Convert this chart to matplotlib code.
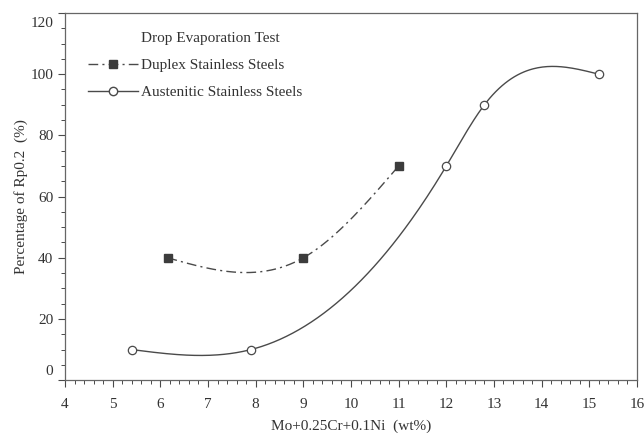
import numpy as np
import matplotlib
matplotlib.use('Agg')
import matplotlib.pyplot as plt
from matplotlib.lines import Line2D
from matplotlib.ticker import MultipleLocator
import matplotlib.transforms as mtransforms

plt.rcParams['font.family'] = ['Liberation Serif', 'DejaVu Serif']

# datos
duplex_x = [6.15, 9.0, 11.0]
duplex_y = [40, 40, 70]
aust_x = [5.4, 7.9, 12.0, 12.8, 15.2]
aust_y = [10, 10, 70, 90, 100]

titulo_leyenda = 'Drop Evaporation Test'
etiqueta_duplex = 'Duplex Stainless Steels'
etiqueta_aust = 'Austenitic Stainless Steels'

x_ticks = list(range(4, 17))
y_ticks = [0, 20, 40, 60, 80, 100, 120]

gris = '#4a4a4a'
texto = '#333333'


def spline_natural(x, y, n=300):
    # spline cubico natural, solo para suavizar la curva entre puntos
    x = np.asarray(x, float)
    y = np.asarray(y, float)
    k = len(x)
    h = np.diff(x)
    A = np.zeros((k, k))
    r = np.zeros(k)
    A[0, 0] = A[-1, -1] = 1
    for i in range(1, k - 1):
        A[i, i - 1] = h[i - 1]
        A[i, i] = 2 * (h[i - 1] + h[i])
        A[i, i + 1] = h[i]
        r[i] = 6 * ((y[i + 1] - y[i]) / h[i] - (y[i] - y[i - 1]) / h[i - 1])
    M = np.linalg.solve(A, r)
    xs = np.linspace(x[0], x[-1], n)
    i = np.clip(np.searchsorted(x, xs) - 1, 0, k - 2)
    t1 = x[i + 1] - xs
    t0 = xs - x[i]
    hi = h[i]
    ys = ((M[i] * t1 ** 3 + M[i + 1] * t0 ** 3) / (6 * hi)
          + (y[i] / hi - M[i] * hi / 6) * t1
          + (y[i + 1] / hi - M[i + 1] * hi / 6) * t0)
    return xs, ys


fig = plt.figure(figsize=(6.44, 4.33), dpi=100)
ax = fig.add_axes([0.101, 0.122, 0.888, 0.848])

estilo_dd = (0, (7, 3, 1.5, 3))

xs, ys = spline_natural(duplex_x, duplex_y)
ax.plot(xs, ys, color=gris, lw=1.0, linestyle=estilo_dd)
ax.plot(duplex_x, duplex_y, 's', color='#3c3c3c', ms=6, zorder=3)

xs, ys = spline_natural(aust_x, aust_y)
ax.plot(xs, ys, color=gris, lw=1.0)
ax.plot(aust_x, aust_y, 'o', mfc='white', mec=gris, mew=0.9, ms=6, zorder=3)

ax.set_xlim(4, 16)
ax.set_ylim(0, 120)
ax.set_xticks(x_ticks)
ax.set_yticks(y_ticks)
ax.xaxis.set_minor_locator(MultipleLocator(0.2))
ax.yaxis.set_minor_locator(MultipleLocator(5))
ax.tick_params(which='both', direction='out', colors=gris, labelcolor=texto,
               labelsize=11, top=False, right=False)
ax.tick_params(which='major', length=5, width=0.8)
ax.tick_params(which='minor', length=3, width=0.7)
ax.tick_params(axis='x', which='major', pad=8)

for s in ax.spines.values():
    s.set_color('#666666')
    s.set_linewidth(0.9)

# las etiquetas 0 y 120 van un poco hacia dentro, como en el original
etqs = ax.get_yticklabels()
etqs[0].set_transform(etqs[0].get_transform() +
                      mtransforms.ScaledTranslation(0, 10 / 100, fig.dpi_scale_trans))
etqs[-1].set_transform(etqs[-1].get_transform() +
                       mtransforms.ScaledTranslation(0, -9 / 100, fig.dpi_scale_trans))

ax.set_xlabel('Mo+0.25Cr+0.1Ni  (wt%)', fontsize=11, color=texto, labelpad=6)
ax.set_ylabel('Percentage of Rp0.2  (%)', fontsize=11, color=texto, labelpad=2)

handles = [
    Line2D([], [], linestyle='none'),
    Line2D([], [], color=gris, lw=1.0, linestyle=estilo_dd, marker='s',
           mfc='#3c3c3c', mec='#3c3c3c', ms=6),
    Line2D([], [], color=gris, lw=1.0, marker='o', mfc='white', mec=gris, ms=6),
]
ax.legend(handles, [titulo_leyenda, etiqueta_duplex, etiqueta_aust],
          loc='upper left', bbox_to_anchor=(0.016, 0.987), frameon=False,
          fontsize=11, handlelength=3.3, handletextpad=0.15, labelspacing=0.88,
          labelcolor=texto, markerscale=1, numpoints=1)

fig.savefig('out.png', dpi=100)
